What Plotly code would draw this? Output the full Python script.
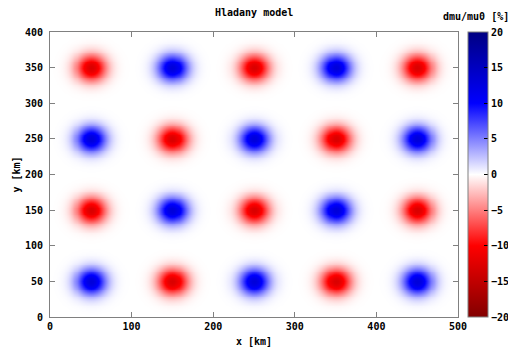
import numpy as np
import plotly.graph_objects as go

# Anomaly centres (km) and amplitudes (%)
anom_x = [50, 150, 250, 350, 450,
          50, 150, 250, 350, 450,
          50, 150, 250, 350, 450,
          50, 150, 250, 350, 450]
anom_y = [50, 50, 50, 50, 50,
          150, 150, 150, 150, 150,
          250, 250, 250, 250, 250,
          350, 350, 350, 350, 350]
anom_amp = [13, -13, 13, -13, 13,
            -13, 13, -13, 13, -13,
            13, -13, 13, -13, 13,
            -13, 13, -13, 13, -13]
anom_width = 13  # km

grid_x = np.arange(0, 500.1, 2.5)
grid_y = np.arange(0, 400.1, 2.5)
GX, GY = np.meshgrid(grid_x, grid_y)
Z = np.zeros_like(GX)
for cx, cy, a in zip(anom_x, anom_y, anom_amp):
    Z += a * np.exp(-((GX - cx) ** 2 + (GY - cy) ** 2) / (2 * anom_width ** 2))

x_ticks = [0, 100, 200, 300, 400, 500]
y_ticks = [0, 50, 100, 150, 200, 250, 300, 350, 400]
cb_ticks = [-20, -15, -10, -5, 0, 5, 10, 15, 20]

FONT = "DejaVu Sans Mono"
bold = dict(family=FONT, size=10, color="black", weight="bold")

colorscale = [
    [0.0, "rgb(130,0,0)"],
    [0.25, "rgb(255,0,0)"],
    [0.5, "rgb(255,255,255)"],
    [0.75, "rgb(0,0,255)"],
    [1.0, "rgb(0,0,130)"],
]

# page body has an 8px default margin, so the figure is 8px smaller and shifted
FIG_W, FIG_H = 508, 341
ML, MR, MT, MB = 42, 58, 24, 32
PLOT_W = FIG_W - ML - MR

fig = go.Figure(go.Heatmap(
    x=grid_x, y=grid_y, z=Z,
    zmin=-20, zmax=20, colorscale=colorscale, zsmooth="best",
    colorbar=dict(
        x=1.0 + 10 / PLOT_W, xanchor="left", xpad=0, xref="paper",
        y=0.5, yanchor="middle", len=1.0, lenmode="fraction", ypad=0,
        thickness=20, thicknessmode="pixels",
        tickvals=cb_ticks, ticks="inside", ticklen=4, tickcolor="black",
        outlinecolor="gray", outlinewidth=1,
        tickfont=bold,
        title=dict(text=""),
    ),
))

fig.update_layout(
    width=FIG_W, height=FIG_H,
    margin=dict(l=ML, r=MR, t=MT, b=MB, autoexpand=False),
    paper_bgcolor="white", plot_bgcolor="white",
    font=dict(family=FONT, size=10, color="black"),
    showlegend=False,
    annotations=[
        dict(text="<b>Hladany model</b>", x=0.5, y=1, xref="paper", yref="paper",
             xanchor="center", yanchor="bottom", yshift=12, showarrow=False,
             font=dict(family=FONT, size=10)),
        dict(text="<b>dmu/mu0 [%]</b>", x=1.0 + 53 / PLOT_W, y=1, xref="paper", yref="paper",
             xanchor="right", yanchor="bottom", yshift=8, showarrow=False,
             font=dict(family=FONT, size=10)),
    ],
)

fig.update_xaxes(
    range=[0, 500], tickvals=x_ticks, ticks="inside", ticklen=5, tickcolor="gray",
    showline=True, linecolor="gray", linewidth=1, mirror="ticks", showgrid=False,
    zeroline=False, tickfont=bold,
    title=dict(text="<b>x [km]</b>", standoff=6, font=dict(family=FONT, size=10)),
)
fig.update_yaxes(
    range=[0, 400], tickvals=y_ticks, ticks="inside", ticklen=5, tickcolor="gray",
    showline=True, linecolor="gray", linewidth=1, mirror="ticks", showgrid=False,
    zeroline=False, tickfont=bold, ticklabelstandoff=4,
    title=dict(text="<b>y [km]</b>", standoff=2, font=dict(family=FONT, size=10)),
)

fig.write_html("out.html")
